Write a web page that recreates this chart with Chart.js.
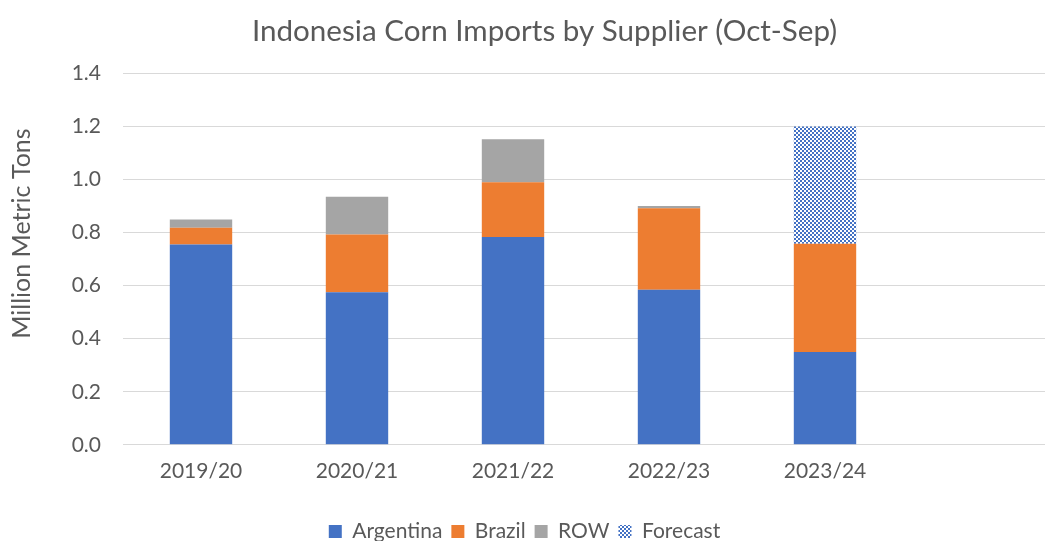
<!DOCTYPE html>
<html>
<head>
<meta charset="utf-8">
<script src="https://cdn.jsdelivr.net/npm/chart.js@4"></script>
<style>
  html, body { margin: 0; padding: 0; background: #fff; overflow: hidden; }
  #wrap { width: 1045px; height: 541px; overflow: hidden; }
  #box { width: 1090px; height: 552px; }
</style>
</head>
<body>
<div id="wrap"><div id="box"><canvas id="myChart"></canvas></div></div>
<script>
// data (million metric tons)
const years = ['2019/20', '2020/21', '2021/22', '2022/23', '2023/24', ''];
const argentina = [0.755, 0.575, 0.784, 0.585, 0.35, null];
const brazil = [0.063, 0.218, 0.206, 0.307, 0.408, null];
const row = [0.032, 0.142, 0.162, 0.008, 0, null];
const forecast = [0, 0, 0, 0, 0.442, null];
const yTicks = [0, 0.2, 0.4, 0.6, 0.8, 1.0, 1.2, 1.4];

const textColor = '#595959';
const font = 'Lato, "Open Sans", sans-serif';

// checker pattern for the forecast bar
function checker() {
  const c = document.createElement('canvas');
  c.width = 4; c.height = 4;
  const g = c.getContext('2d');
  g.fillStyle = '#fff';
  g.fillRect(0, 0, 4, 4);
  g.fillStyle = '#4472C4';
  g.fillRect(0, 0, 2, 2);
  g.fillRect(2, 2, 2, 2);
  return g.createPattern(c, 'repeat');
}
const pat = checker();

// title and legend sit a bit off the canvas centre in the original
const nudge = {
  id: 'nudge',
  afterLayout(chart) {
    chart.titleBlock.left += 15;
    chart.titleBlock.right += 15;
    chart.legend.left -= 5;
    chart.legend.right -= 5;
  }
};

// leading spaces push the axis title up a little, as in the original
const yTitle = '\u00A0'.repeat(8) + 'Million Metric Tons';

const ctx = document.getElementById('myChart');

new Chart(ctx, {
  type: 'bar',
  data: {
    labels: years,
    datasets: [
      { label: 'Argentina', data: argentina, backgroundColor: '#4472C4' },
      { label: 'Brazil', data: brazil, backgroundColor: '#ED7D31' },
      { label: 'ROW', data: row, backgroundColor: '#A5A5A5' },
      { label: 'Forecast', data: forecast, backgroundColor: pat }
    ]
  },
  plugins: [nudge],
  options: {
    responsive: true,
    maintainAspectRatio: false,
    animation: false,
    datasets: {
      bar: { categoryPercentage: 1, barPercentage: 0.4, borderWidth: 0 }
    },
    layout: {
      padding: { left: 0, right: 31, top: 14, bottom: 0 }
    },
    plugins: {
      title: {
        display: true,
        text: 'Indonesia Corn Imports by Supplier (Oct-Sep)',
        color: textColor,
        font: { family: font, size: 29.6, weight: 'normal' },
        padding: { top: 0, bottom: 24 }
      },
      legend: {
        position: 'bottom',
        labels: {
          color: textColor,
          font: { family: font, size: 21 },
          boxWidth: 13,
          boxHeight: 13,
          padding: 9
        }
      },
      tooltip: { enabled: false }
    },
    scales: {
      x: {
        stacked: true,
        afterFit(scale) { scale.height += 14; },
        grid: { display: false, drawTicks: false },
        border: { color: '#D9D9D9', width: 1 },
        ticks: {
          color: textColor,
          font: { family: font, size: 21 },
          padding: 14,
          maxRotation: 0
        }
      },
      y: {
        stacked: true,
        min: 0,
        max: 1.4,
        afterFit(scale) { scale.width = 123; },
        afterBuildTicks(scale) { scale.ticks = yTicks.map(v => ({ value: v })); },
        grid: { color: '#D9D9D9', lineWidth: 1, drawTicks: false },
        border: { display: false },
        ticks: {
          color: textColor,
          font: { family: font, size: 21 },
          padding: 22,
          callback: v => v.toFixed(1)
        },
        title: {
          display: true,
          text: yTitle,
          color: textColor,
          font: { family: font, size: 25 },
          padding: { top: 7, bottom: 0 }
        }
      }
    }
  }
});
</script>
</body>
</html>
